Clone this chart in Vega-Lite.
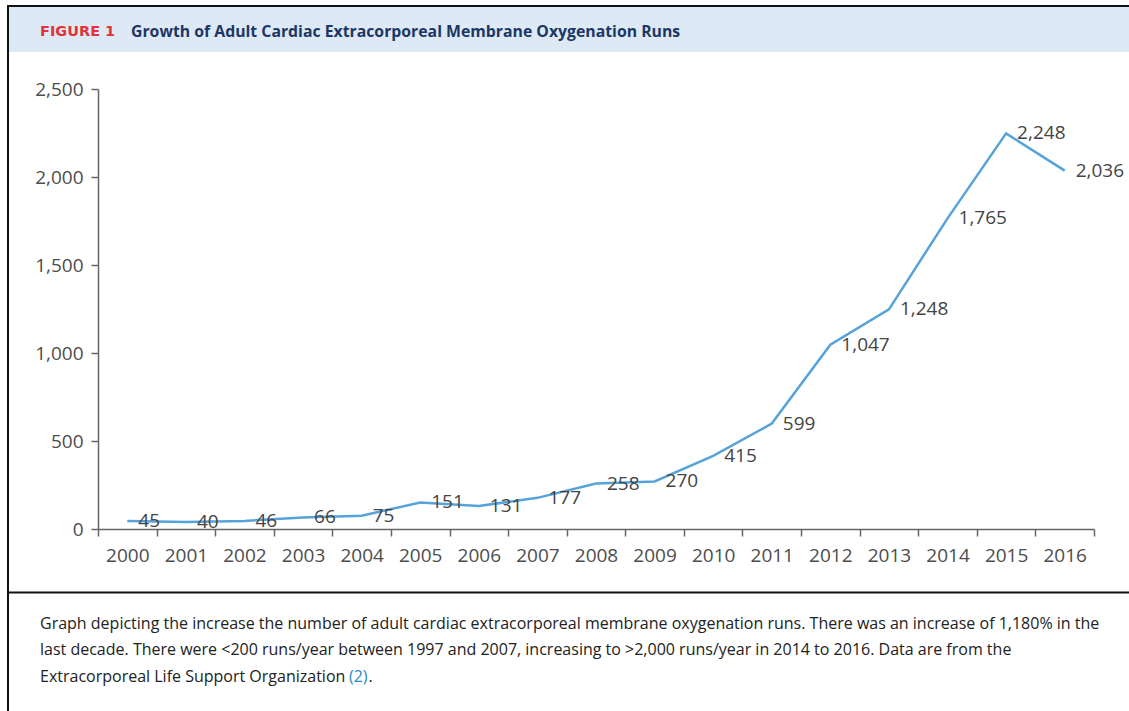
{
  "$schema": "https://vega.github.io/schema/vega-lite/v6.json",
  "autosize": {"type": "none"},
  "width": 996,
  "height": 440,
  "padding": {"left": 98, "top": 89, "right": 35, "bottom": 182},
  "background": "white",
  "config": {"view": {"stroke": null}, "font": "Open Sans"},
  "layer": [
    {
      "data": {"values": [{"k": 1}]},
      "mark": {"type": "rect", "fill": "#dde9f5"},
      "encoding": {"x": {"value": -90}, "x2": {"value": 1031}, "y": {"value": -82}, "y2": {"value": -37}}
    },
    {
      "data": {"values": [{"k": 1}]},
      "mark": {"type": "rule", "stroke": "#111", "strokeWidth": 2},
      "encoding": {"x": {"value": -90}, "x2": {"value": 1031}, "y": {"value": -83}, "y2": {"value": -83}}
    },
    {
      "data": {"values": [{"k": 1}]},
      "mark": {"type": "rule", "stroke": "#111", "strokeWidth": 2},
      "encoding": {"x": {"value": -90}, "x2": {"value": -90}, "y": {"value": -84}, "y2": {"value": 622}}
    },
    {
      "data": {"values": [{"k": 1}]},
      "mark": {"type": "rule", "stroke": "#111", "strokeWidth": 2},
      "encoding": {"x": {"value": -90}, "x2": {"value": 1031}, "y": {"value": 503.5}, "y2": {"value": 503.5}}
    },
    {
      "data": {"values": [{"t": "FIGURE 1"}]},
      "mark": {"type": "text", "font": "DejaVu Sans", "fontWeight": "bold", "fontSize": 14.5, "fill": "#e2333b", "align": "left", "baseline": "middle"},
      "encoding": {"text": {"field": "t"}, "x": {"value": -58}, "y": {"value": -57.5}}
    },
    {
      "data": {"values": [{"t": "Growth of Adult Cardiac Extracorporeal Membrane Oxygenation Runs"}]},
      "mark": {"type": "text", "font": "Open Sans", "fontWeight": "bold", "fontSize": 15.8, "fill": "#1c3766", "align": "left", "baseline": "middle"},
      "encoding": {"text": {"field": "t"}, "x": {"value": 33}, "y": {"value": -57.5}}
    },
    {
      "data": {"values": [{"t": "Graph depicting the increase the number of adult cardiac extracorporeal membrane oxygenation runs. There was an increase of 1,180% in the"}]},
      "mark": {"type": "text", "font": "Open Sans", "fontSize": 16, "fill": "#222", "align": "left", "baseline": "middle"},
      "encoding": {"text": {"field": "t"}, "x": {"value": -58}, "y": {"value": 535}}
    },
    {
      "data": {"values": [{"t": "last decade. There were <200 runs/year between 1997 and 2007, increasing to >2,000 runs/year in 2014 to 2016. Data are from the"}]},
      "mark": {"type": "text", "font": "Open Sans", "fontSize": 16, "fill": "#222", "align": "left", "baseline": "middle"},
      "encoding": {"text": {"field": "t"}, "x": {"value": -58}, "y": {"value": 561}}
    },
    {
      "data": {"values": [{"t": "Extracorporeal Life Support Organization"}]},
      "mark": {"type": "text", "font": "Open Sans", "fontSize": 16, "fill": "#222", "align": "left", "baseline": "middle"},
      "encoding": {"text": {"field": "t"}, "x": {"value": -58}, "y": {"value": 588}}
    },
    {
      "data": {"values": [{"t": "(2)"}]},
      "mark": {"type": "text", "font": "Open Sans", "fontSize": 16, "fill": "#2a8ac8", "align": "left", "baseline": "middle"},
      "encoding": {"text": {"field": "t"}, "x": {"value": 251}, "y": {"value": 588}}
    },
    {
      "data": {"values": [{"t": "."}]},
      "mark": {"type": "text", "font": "Open Sans", "fontSize": 16, "fill": "#222", "align": "left", "baseline": "middle"},
      "encoding": {"text": {"field": "t"}, "x": {"value": 270.5}, "y": {"value": 588}}
    },
    {
      "data": {"name": "runs", "values": [
        {"year": "2000", "runs": 45},
        {"year": "2001", "runs": 40},
        {"year": "2002", "runs": 46},
        {"year": "2003", "runs": 66},
        {"year": "2004", "runs": 75},
        {"year": "2005", "runs": 151},
        {"year": "2006", "runs": 131},
        {"year": "2007", "runs": 177},
        {"year": "2008", "runs": 258},
        {"year": "2009", "runs": 270},
        {"year": "2010", "runs": 415},
        {"year": "2011", "runs": 599},
        {"year": "2012", "runs": 1047},
        {"year": "2013", "runs": 1248},
        {"year": "2014", "runs": 1765},
        {"year": "2015", "runs": 2248},
        {"year": "2016", "runs": 2036}
      ]},
      "encoding": {
        "x": {
          "field": "year", "type": "ordinal",
          "scale": {"type": "band", "paddingInner": 0, "paddingOuter": 0},
          "axis": {
            "title": null, "labelAngle": 0, "tickBand": "extent",
            "labelFont": "Open Sans", "labelFontSize": 19, "labelColor": "#4d4d4d", "labelPadding": 10,
            "domainColor": "#666", "domainWidth": 1.5, "tickColor": "#666", "tickWidth": 1.5, "tickSize": 7
          }
        },
        "y": {
          "field": "runs", "type": "quantitative",
          "scale": {"domain": [0, 2500], "nice": false},
          "axis": {
            "title": null, "values": [0, 500, 1000, 1500, 2000, 2500], "format": ",.0f", "grid": false,
            "labelFont": "Open Sans", "labelFontSize": 19, "labelColor": "#4d4d4d", "labelPadding": 8,
            "domainColor": "#666", "domainWidth": 1.5, "tickColor": "#666", "tickWidth": 1.5, "tickSize": 7
          }
        }
      },
      "layer": [
        {"mark": {"type": "line", "stroke": "#56a3db", "strokeWidth": 2.5}},
        {
          "mark": {"type": "text", "align": "left", "baseline": "middle", "dx": 11, "font": "Open Sans", "fontSize": 19, "fill": "#444"},
          "encoding": {"text": {"field": "runs", "type": "quantitative", "format": ","}}
        }
      ]
    }
  ]
}
